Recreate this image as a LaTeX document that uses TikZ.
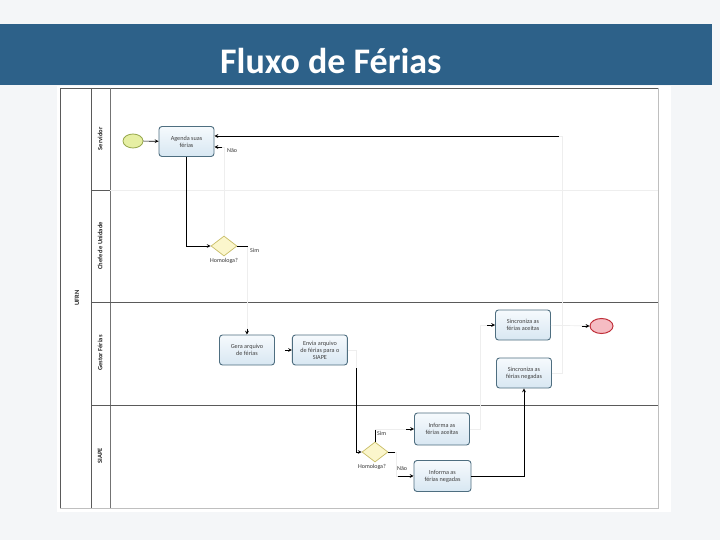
\documentclass[tikz,border=0pt]{standalone}
\usepackage{fontspec}
\setmainfont{Carlito}
\usetikzlibrary{shapes,arrows,positioning,calc}
\definecolor{bannerblue}{HTML}{2D6189}
\definecolor{slidegray}{HTML}{F4F6F8}
\definecolor{taskedge}{HTML}{4E6E80}
\definecolor{tasktop}{HTML}{F6FAFD}
\definecolor{taskbottom}{HTML}{D8E7F2}
\definecolor{gateedge}{HTML}{C9BE68}
\definecolor{gatefill}{HTML}{FBF6CC}
\definecolor{startedge}{HTML}{98A94E}
\definecolor{startfill}{HTML}{E6EFA3}
\definecolor{endedge}{HTML}{C0303A}
\definecolor{endfill}{HTML}{F5BCC3}
\definecolor{laneline}{HTML}{5A5A5A}
\definecolor{faintline}{HTML}{EEEEEE}

\begin{document}
\begin{tikzpicture}[
      x=1pt, y=-1pt,
      node distance=1pt and 4pt,
      task/.style={rectangle, draw=taskedge, top color=tasktop, bottom color=taskbottom, rounded corners=3pt, line width=0.9pt, align=center, text=black!75, font=\fontsize{6.2}{7}\selectfont, minimum width=55pt, minimum height=30pt, inner sep=1pt},
      gateway/.style={diamond, draw=gateedge, fill=gatefill, line width=0.7pt, minimum width=26pt, minimum height=20pt, inner sep=0pt},
      event/.style={ellipse, line width=0.8pt, minimum width=20pt, minimum height=14pt, inner sep=0pt},
      lane/.style={rotate=90, font=\bfseries\fontsize{6.5}{7.5}\selectfont, text=black!85},
      flowlbl/.style={font=\fontsize{6}{7}\selectfont, text=black!80, inner sep=1pt},
      arrow/.style={->, >=stealth, line width=0.7pt},
      faint/.style={draw=faintline, line width=0.7pt}
    ]
      \fill[slidegray] (0,0) rectangle (720,540);
      \fill[white] (57,86) rectangle (671,512);
      \fill[bannerblue] (0,24) rectangle (712,85);
      \node[anchor=base west, text=white, font=\bfseries\fontsize{36}{41}\selectfont, inner sep=0pt] (title) at (220,74) {Fluxo de Férias};

      \draw[laneline, line width=0.8pt] (658,88) -- (60,88) -- (60,508);
      \draw[black!25, line width=0.6pt] (658,88) -- (658,508) -- (60,508);
      \draw[laneline, line width=0.8pt] (91,88) -- (91,508);
      \draw[black!55, line width=0.6pt] (110,88) -- (110,508);
      \draw[laneline, line width=0.6pt] (91,190) -- (110,190);
      \draw[faintline, line width=0.6pt] (110,190) -- (658,190);
      \draw[laneline, line width=0.8pt] (91,302) -- (658,302);
      \draw[laneline, line width=0.8pt] (91,405) -- (658,405);

      \node[lane] (ufrn) at (77,298) {UFRN};
      \node[lane] (servidor) at (100,139) {Servidor};
      \node[lane] (chefe) at (100,246) {Chefe de Unidade};
      \node[lane] (gestor) at (100,353) {Gestor Férias};
      \node[lane] (siape) at (100,456) {SIAPE};

      \node[event, draw=startedge, fill=startfill] (start) at (133,141) {};
      \node[task] (agenda) at (186.5,141.5) {Agenda suas\\férias};
      \node[gateway] (hom1) at (224,246) {};
      \node[flowlbl, below=of hom1] (hom1lbl) {Homologa?};

      \node[task] (gera) at (247,350) {Gera arquivo\\de férias};
      \node[task, right=17pt of gera] (envia) {Envia arquivo\\de férias para o\\SIAPE};

      \node[gateway] (hom2) at (375,452) {};
      \node[flowlbl, below=of hom2, xshift=-3pt] (hom2lbl) {Homologa?};
      \node[task, minimum height=32pt] (aceitas) at (442,429) {Informa as\\férias aceitas};
      \node[task, minimum width=57pt, minimum height=31pt] (negadas) at (442.5,476) {Informa as\\férias negadas};

      \node[task] (sinca) at (523,325) {Sincroniza as\\férias aceitas};
      \node[task] (sincn) at (524,373) {Sincroniza as\\férias negadas};
      \node[event, draw=endedge, fill=endfill, minimum width=23pt, minimum height=15pt, line width=1pt] (end) at (601.5,326) {};

      \draw[arrow] (start) -- (agenda);
      \draw[arrow] (agenda.south) |- (hom1.west);

      \draw[faint] (hom1.north) |- ($(agenda.east)+(0,5.5)$);
      \draw[arrow] ($(agenda.east)+(8,5.5)$) -- ($(agenda.east)+(0,5.5)$);
      \node[flowlbl, anchor=west] (nao1) at (226,150.5) {Não};

      \draw[faint] (hom1.east) -| (gera.north);
      \draw[line width=0.7pt] (hom1.east) -- ++(11,0);
      \draw[arrow] ($(gera.north)+(0,-6)$) -- (gera.north);
      \node[flowlbl, anchor=west] (sim1) at (249,250) {Sim};

      \draw[arrow] ($(gera.east)+(10,0)$) -- (envia.west);

      \coordinate (enviaout) at ($(envia.east)+(8,0)$);
      \draw[faint] (envia.east) -- (enviaout) -- ($(enviaout)+(0,18)$);
      \draw[arrow] ($(enviaout)+(0,18)$) |- (hom2.west);

      \draw[faint] (hom2.north) |- (aceitas.west);
      \draw[line width=0.7pt] (hom2.north) -- ++(0,-12);
      \draw[arrow] ($(aceitas.west)+(-8,0)$) -- (aceitas.west);
      \node[flowlbl, anchor=west] (sim2) at (376,433) {Sim};

      \draw[faint] (hom2.east) -- ++(8,0) |- (negadas.west);
      \draw[line width=0.7pt] (hom2.east) -- ++(7,0);
      \draw[arrow] ($(negadas.west)+(-16,0)$) -- (negadas.west);
      \node[flowlbl, anchor=west] (nao2) at (396,469) {Não};

      \draw[arrow] (negadas.east) -| (sincn.south);

      \draw[faint] (aceitas.east) -- ++(10,0) |- (sinca.west);
      \draw[arrow] ($(sinca.west)+(-8,0)$) -- (sinca.west);

      \draw[faint] (sinca) -- (end);
      \draw[arrow] ($(end.west)+(-8,0)$) -- (end.west);

      \coordinate (loopback) at ($(sincn.east)+(10,0)$);
      \draw[faint] (sincn.east) -- (loopback) |- ($(agenda.east)+(0,-5.5)$);
      \draw[arrow] ($(loopback |- agenda.east)+(-3,-5.5)$) -- ($(agenda.east)+(0,-5.5)$);
    \end{tikzpicture}
\end{document}
